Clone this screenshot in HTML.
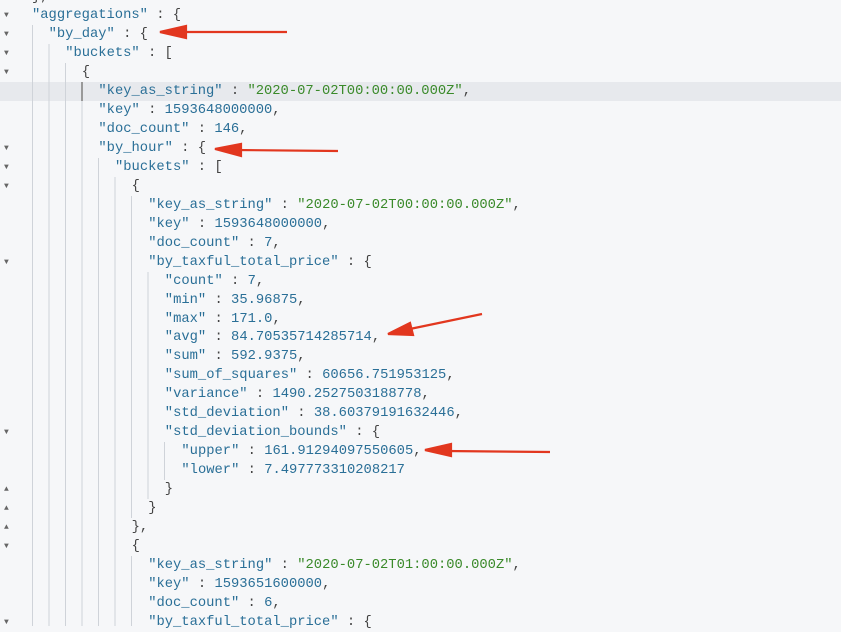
<!DOCTYPE html>
<html><head><meta charset="utf-8"><style>
body{margin:0;width:841px;height:626px;overflow:hidden;background:#f6f7f9;position:relative;font-family:"Liberation Mono",monospace;font-size:13.8px}
.l{position:absolute;left:0;width:841px;height:19px;line-height:19px;white-space:pre;color:#444}
.hl{background:#e7e9ed}
.k{color:#2a6f97}.s{color:#3a8a2a}.n{color:#2a6f97}
.f{position:absolute;left:4px;top:0;font-size:8px;color:#666}
.t{position:absolute;top:0}
.L0{left:32px}.L1{left:48.6px}.L2{left:65.2px}.L3{left:81.8px}.L4{left:98.4px}.L5{left:115px}.L6{left:131.6px}.L7{left:148.2px}.L8{left:164.8px}.L9{left:181.4px}
</style></head><body>
<div class="l" style="top:-12.5px"><span class="t L0">},</span></div>
<div class="l" style="top:6.4px"><span class="f">▼</span><span class="t L0"><span class="k">"aggregations"</span> : {</span></div>
<div class="l" style="top:25.4px"><span class="f">▼</span><span class="t L1"><span class="k">"by_day"</span> : {</span></div>
<div class="l" style="top:44.3px"><span class="f">▼</span><span class="t L2"><span class="k">"buckets"</span> : [</span></div>
<div class="l" style="top:63.3px"><span class="f">▼</span><span class="t L3">{</span></div>
<div class="l hl" style="top:82.2px"><span class="t L4"><span class="k">"key_as_string"</span> : <span class="s">"2020-07-02T00:00:00.000Z"</span>,</span></div>
<div class="l" style="top:101.1px"><span class="t L4"><span class="k">"key"</span> : <span class="n">1593648000000</span>,</span></div>
<div class="l" style="top:120.1px"><span class="t L4"><span class="k">"doc_count"</span> : <span class="n">146</span>,</span></div>
<div class="l" style="top:139px"><span class="f">▼</span><span class="t L4"><span class="k">"by_hour"</span> : {</span></div>
<div class="l" style="top:158px"><span class="f">▼</span><span class="t L5"><span class="k">"buckets"</span> : [</span></div>
<div class="l" style="top:176.9px"><span class="f">▼</span><span class="t L6">{</span></div>
<div class="l" style="top:195.8px"><span class="t L7"><span class="k">"key_as_string"</span> : <span class="s">"2020-07-02T00:00:00.000Z"</span>,</span></div>
<div class="l" style="top:214.8px"><span class="t L7"><span class="k">"key"</span> : <span class="n">1593648000000</span>,</span></div>
<div class="l" style="top:233.7px"><span class="t L7"><span class="k">"doc_count"</span> : <span class="n">7</span>,</span></div>
<div class="l" style="top:252.7px"><span class="f">▼</span><span class="t L7"><span class="k">"by_taxful_total_price"</span> : {</span></div>
<div class="l" style="top:271.6px"><span class="t L8"><span class="k">"count"</span> : <span class="n">7</span>,</span></div>
<div class="l" style="top:290.5px"><span class="t L8"><span class="k">"min"</span> : <span class="n">35.96875</span>,</span></div>
<div class="l" style="top:309.5px"><span class="t L8"><span class="k">"max"</span> : <span class="n">171.0</span>,</span></div>
<div class="l" style="top:328.4px"><span class="t L8"><span class="k">"avg"</span> : <span class="n">84.70535714285714</span>,</span></div>
<div class="l" style="top:347.4px"><span class="t L8"><span class="k">"sum"</span> : <span class="n">592.9375</span>,</span></div>
<div class="l" style="top:366.3px"><span class="t L8"><span class="k">"sum_of_squares"</span> : <span class="n">60656.751953125</span>,</span></div>
<div class="l" style="top:385.2px"><span class="t L8"><span class="k">"variance"</span> : <span class="n">1490.2527503188778</span>,</span></div>
<div class="l" style="top:404.2px"><span class="t L8"><span class="k">"std_deviation"</span> : <span class="n">38.60379191632446</span>,</span></div>
<div class="l" style="top:423.1px"><span class="f">▼</span><span class="t L8"><span class="k">"std_deviation_bounds"</span> : {</span></div>
<div class="l" style="top:442.1px"><span class="t L9"><span class="k">"upper"</span> : <span class="n">161.91294097550605</span>,</span></div>
<div class="l" style="top:461px"><span class="t L9"><span class="k">"lower"</span> : <span class="n">7.497773310208217</span></span></div>
<div class="l" style="top:479.9px"><span class="f">▲</span><span class="t L8">}</span></div>
<div class="l" style="top:498.9px"><span class="f">▲</span><span class="t L7">}</span></div>
<div class="l" style="top:517.8px"><span class="f">▲</span><span class="t L6">},</span></div>
<div class="l" style="top:536.8px"><span class="f">▼</span><span class="t L6">{</span></div>
<div class="l" style="top:555.7px"><span class="t L7"><span class="k">"key_as_string"</span> : <span class="s">"2020-07-02T01:00:00.000Z"</span>,</span></div>
<div class="l" style="top:574.6px"><span class="t L7"><span class="k">"key"</span> : <span class="n">1593651600000</span>,</span></div>
<div class="l" style="top:593.6px"><span class="t L7"><span class="k">"doc_count"</span> : <span class="n">6</span>,</span></div>
<div class="l" style="top:612.5px"><span class="f">▼</span><span class="t L7"><span class="k">"by_taxful_total_price"</span> : {</span></div>
<svg width="841" height="626" style="position:absolute;left:0;top:0">
<g stroke="#cfd3d9" stroke-width="1">
<line x1="32.5" y1="25" x2="32.5" y2="626"/>
<line x1="49" y1="44" x2="49" y2="626"/>
<line x1="65.5" y1="63" x2="65.5" y2="626"/>
<line x1="82" y1="82" x2="82" y2="626"/>
<line x1="98.5" y1="158" x2="98.5" y2="626"/>
<line x1="115" y1="177" x2="115" y2="626"/>
<line x1="131.5" y1="196" x2="131.5" y2="518"/>
<line x1="131.5" y1="556" x2="131.5" y2="626"/>
<line x1="148" y1="272" x2="148" y2="499"/>
<line x1="164.5" y1="442" x2="164.5" y2="480"/>
</g>
<line x1="82" y1="82" x2="82" y2="101" stroke="#999" stroke-width="2"/>
<g stroke="#e2371f" stroke-width="2.2" fill="#e2371f">
<line x1="287" y1="32" x2="180" y2="32"/><polygon points="160,32 186,26 186,38"/>
<line x1="338" y1="151" x2="235" y2="150"/><polygon points="215,149 241,144 241,156"/>
<line x1="482" y1="314" x2="405" y2="330"/><polygon points="388,334 410,323 413,335"/>
<line x1="550" y1="452" x2="445" y2="451"/><polygon points="425,450 451,444 451,456"/>
</g></svg>
</body></html>
